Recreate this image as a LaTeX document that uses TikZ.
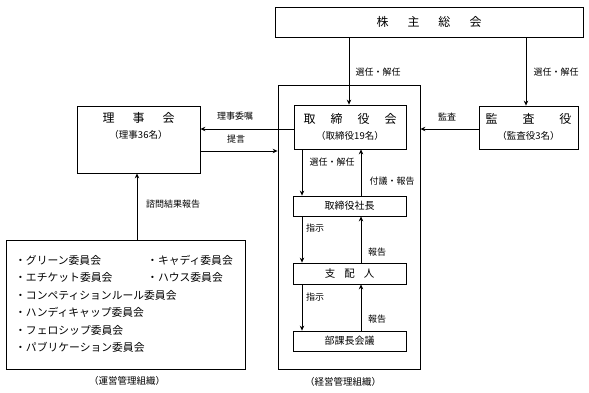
\documentclass[tikz,border=0pt]{standalone}
\usepackage{fontspec}
\setmainfont{Noto Sans CJK JP}
\usetikzlibrary{arrows.meta,calc}
\tikzset{
  box/.style={draw,line width=0.8pt,inner sep=0pt,minimum width=#1},
  lab/.style={inner sep=0pt,font=\fontsize{9}{10}\selectfont},
  ttl/.style={inner sep=0pt,font=\fontsize{12}{14}\selectfont},
  sub/.style={inner sep=0pt,font=\fontsize{9.5}{11}\selectfont},
  item/.style={inner sep=0pt,anchor=west,font=\fontsize{10.8}{12}\selectfont},
  arr/.style={line width=0.8pt,-{Stealth[length=5pt,width=4.5pt]}},
  ln/.style={line width=0.8pt}
}
\begin{document}
\begin{tikzpicture}[x=1pt,y=-1pt]
\useasboundingbox (0,0) rectangle (589,393);
% boxes
\node[box=308pt,minimum height=30pt] (kabu) at (429,22) {};
\node[ttl] (kabuT) at (kabu) {株\hspace{19pt}主\hspace{19pt}総\hspace{19pt}会};
\node[box=142pt,minimum height=284pt] (outer) at (349,227) {};
\node[box=123pt,minimum height=67pt] (riji) at (138.5,139.5) {};
\node[ttl] (rijiT) at (138.5,118) {理\hspace{18pt}事\hspace{18pt}会};
\node[sub] (rijiS) at (138.5,135) {（理事36名）};
\node[box=112pt,minimum height=44pt] (tori) at (350,127) {};
\node[ttl] (toriT) at (350,119) {取\hspace{15pt}締\hspace{15pt}役\hspace{15pt}会};
\node[sub] (toriS) at (350,136) {（取締役19名）};
\node[box=99pt,minimum height=43pt] (kansa) at (528.5,127.5) {};
\node[ttl] (kansaT) at (528.5,119) {監\hspace{25pt}査\hspace{25pt}役};
\node[sub] (kansaS) at (528.5,136) {（監査役3名）};
\node[box=113pt,minimum height=20pt,font=\fontsize{10}{12}\selectfont] (shacho) at (349.5,206) {取締役社長};
\node[box=113pt,minimum height=21pt,font=\fontsize{10.5}{12}\selectfont] (shihai) at (349.5,273.5) {支\hspace{9pt}配\hspace{9pt}人};
\node[box=113pt,minimum height=20pt,font=\fontsize{10}{12}\selectfont] (buka) at (349.5,341) {部課長会議};
\node[box=239pt,minimum height=129pt] (comm) at (125.5,304.5) {};
% committee items
\node[item] (c1) at (15,260) {・グリーン委員会};
\node[item] (c2) at (15,277) {・エチケット委員会};
\node[item] (c3) at (15,295) {・コンペティションルール委員会};
\node[item] (c4) at (15,312) {・ハンディキャップ委員会};
\node[item] (c5) at (15,330) {・フェロシップ委員会};
\node[item] (c6) at (15,347) {・パブリケーション委員会};
\node[item] (c7) at (147,260) {・キャディ委員会};
\node[item] (c8) at (147,277) {・ハウス委員会};
% captions
\node[sub] (capL) at (127,381) {（運営管理組織）};
\node[sub] (capR) at (343,382) {（経営管理組織）};
% helper coordinates
\coordinate (xa) at (349,0);
\coordinate (xb) at (526,0);
\coordinate (xd) at (302,0);
\coordinate (xu) at (361,0);
\coordinate (xc) at (137,0);
\coordinate (ya) at (0,129);
\coordinate (yb) at (0,151);
% connectors
\draw[arr] (kabu.south -| xa) -- (tori.north -| xa);
\draw[arr] (kabu.south -| xb) -- (kansa.north -| xb);
\draw[arr] (tori.west |- ya) -- (riji.east |- ya);
\draw[arr] (riji.east |- yb) -- (outer.west |- yb);
\draw[arr] (kansa.west |- ya) -- (outer.east |- ya);
\draw[arr] (tori.south -| xd) -- (shacho.north -| xd);
\draw[arr] (shacho.north -| xu) -- (tori.south -| xu);
\draw[arr] (shacho.south -| xd) -- (shihai.north -| xd);
\draw[arr] (shihai.north -| xu) -- (shacho.south -| xu);
\draw[arr] (shihai.south -| xd) -- (buka.north -| xd);
\draw[arr] (buka.north -| xu) -- (shihai.south -| xu);
\draw[arr] (comm.north -| xc) -- (riji.south -| xc);
% labels
\node[lab] (l1) at (378,72) {選任・解任};
\node[lab] (l2) at (556,72) {選任・解任};
\node[lab] (l3) at (235,116) {理事委嘱};
\node[lab] (l4) at (236,139) {提言};
\node[lab] (l5) at (447,117) {監査};
\node[lab] (l6) at (332,162) {選任・解任};
\node[lab] (l7) at (392,181) {付議・報告};
\node[lab] (l8) at (315,228) {指示};
\node[lab] (l9) at (377,252) {報告};
\node[lab] (l10) at (315,297) {指示};
\node[lab] (l11) at (377,319) {報告};
\node[lab] (l12) at (173,204) {諮問結果報告};
\end{tikzpicture}
\end{document}
